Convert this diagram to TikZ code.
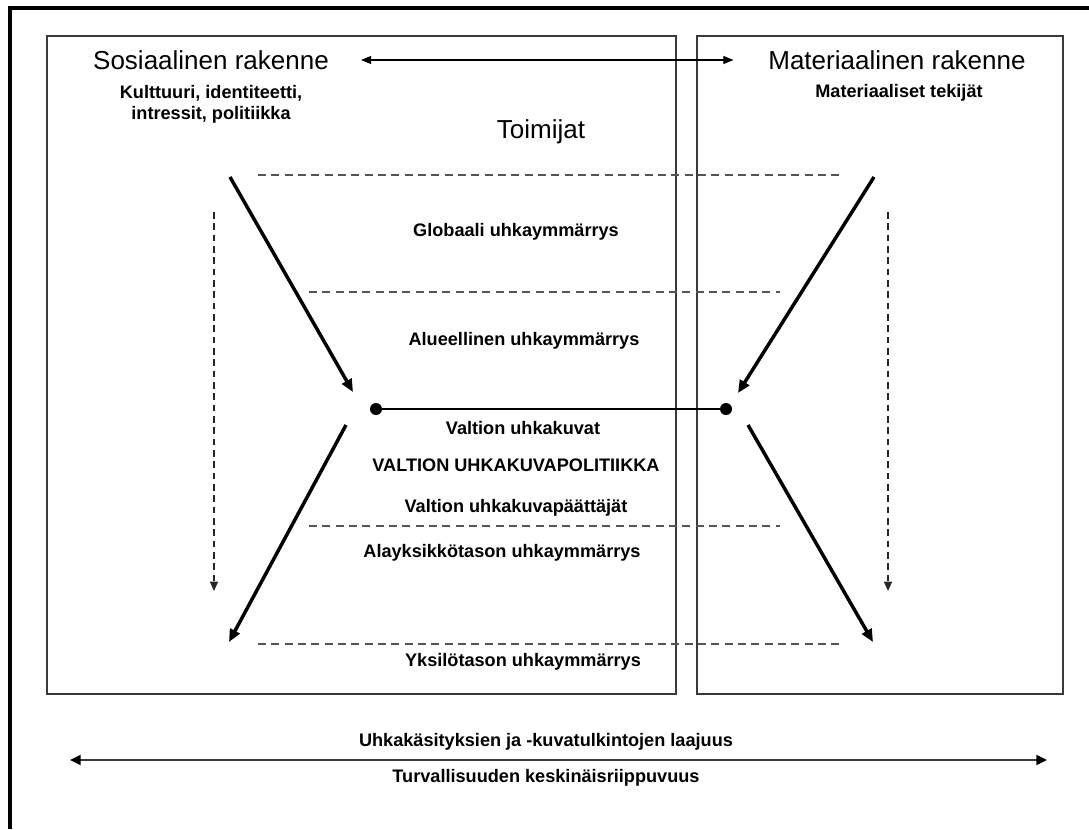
\documentclass[tikz,border=0pt]{standalone}
\usepackage{fontspec}
\setmainfont{Liberation Sans}
\usepackage{xcolor}
\definecolor{linegray}{HTML}{3A3A3A}
\definecolor{dashgray}{HTML}{555555}
\usetikzlibrary{arrows.meta,positioning}

\begin{document}
\begin{tikzpicture}[
  x=0.75pt,y=-0.75pt,
  every node/.style={align=center,inner sep=0pt},
  ttl/.style={font=\fontsize{19.5}{23}\selectfont},
  lbl/.style={font=\bfseries\fontsize{13.6}{15.75}\selectfont},
  bx/.style={draw=linegray,line width=1.1pt},
  dl/.style={draw=dashgray,dash pattern=on 6pt off 4pt,line width=0.8pt},
  ar/.style={-{Triangle[length=9.5pt,width=8pt]},line width=2.6pt},
  da/.style={draw=black!85,dash pattern=on 5pt off 3.5pt,line width=1.1pt,-{Triangle[length=7pt,width=6pt]}},
  dot/.style={circle,fill,minimum size=9pt}
]
\useasboundingbox (0,0) rectangle (1089,829);
% frame and the two structures
\draw[line width=2.4pt] (10,829) -- (10,8) -- (1089,8);
\draw[bx] (47,36) rectangle (676,694);
\draw[bx] (697,36) rectangle (1063,694);

\node[ttl] (sos) at (211,60) {Sosiaalinen rakenne};
\node[lbl] (kult) at (211,104) {Kulttuuri, identiteetti,\\intressit, politiikka};
\node[ttl] (mat) at (897,60) {Materiaalinen rakenne};
\node[lbl] (matt) at (899,93) {Materiaaliset tekijät};
\node[ttl] (toim) at (541,132) {Toimijat};
\draw[{Triangle[length=7.5pt,width=6pt]}-{Triangle[length=7.5pt,width=6pt]},line width=0.8pt]
  ([xshift=24pt]sos.east) -- ([xshift=-26pt]mat.west);

% levels
\foreach \y/\a/\b in {175/258/842,292/309/780,526/309/780,644/258/842}
  \draw[dl] (\a,\y) -- (\b,\y);
\node[lbl] (glob) at (516,232) {Globaali uhkaymmärrys};
\node[lbl] (alue) at (524,341) {Alueellinen uhkaymmärrys};
\node[lbl] (vuk) at (523,428) {Valtion uhkakuvat};
\node[lbl] (vukp) at (516,465) {VALTION UHKAKUVAPOLITIIKKA};
\node[lbl] (vpaat) at (516,508) {Valtion uhkakuvapäättäjät};
\node[lbl] (alay) at (502,553) {Alayksikkötason uhkaymmärrys};
\node[lbl] (yks) at (523,662) {Yksilötason uhkaymmärrys};

% state
\node[dot] (dotl) at (376,409) {};
\node[dot] (dotr) at (726,409) {};
\draw[line width=2.1pt] (dotl) -- (dotr);

\coordinate (lu1) at (230,177); \coordinate (lu2) at (353,392);
\coordinate (ru1) at (874,177); \coordinate (ru2) at (738,393);
\coordinate (ll1) at (346,425); \coordinate (ll2) at (229,642);
\coordinate (rl1) at (748,425); \coordinate (rl2) at (873,642);
\draw[ar] (lu1) -- (lu2); \draw[ar] (ru1) -- (ru2);
\draw[ar] (ll1) -- (ll2); \draw[ar] (rl1) -- (rl2);

\coordinate (vl1) at (214,212); \coordinate (vl2) at (214,591);
\coordinate (vr1) at (888,212); \coordinate (vr2) at (888,591);
\draw[da] (vl1) -- (vl2); \draw[da] (vr1) -- (vr2);

% range
\node[lbl] (laaj) at (546,742) {Uhkakäsityksien ja -kuvatulkintojen laajuus};
\node[lbl] (riip) at (546,778) {Turvallisuuden keskinäisriippuvuus};
\coordinate (bl) at (70,760); \coordinate (br) at (1047,760);
\draw[{Triangle[length=8pt,width=7.5pt,color=black]}-{Triangle[length=8pt,width=7.5pt,color=black]},draw=linegray,line width=1.5pt] (bl) -- (br);
\end{tikzpicture}
\end{document}
